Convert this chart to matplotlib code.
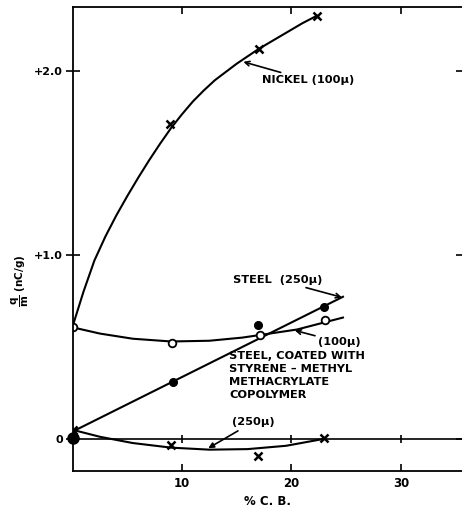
import matplotlib.pyplot as plt

# measured points
nickel_x = [8.9, 17.0, 22.3]
nickel_y = [1.71, 2.12, 2.30]
steel250_x = [0.0, 9.15, 16.97, 22.97]
steel250_y = [0.005, 0.31, 0.62, 0.72]
steel100_x = [0.0, 9.06, 17.1, 23.06]
steel100_y = [0.607, 0.523, 0.563, 0.647]
coated_x = [0.0, 8.97, 16.97, 22.97]
coated_y = [0.05, -0.033, -0.092, 0.004]

# drawn curves
nickel_cx = [0, 1, 2, 3, 4, 5, 6, 7, 8, 9, 10, 11, 12, 13, 14, 15, 16, 17, 18, 19, 20, 21, 22.3]
nickel_cy = [0.61, 0.80, 0.97, 1.10, 1.215, 1.32, 1.42, 1.515, 1.605, 1.69, 1.765, 1.835,
             1.895, 1.95, 1.995, 2.04, 2.08, 2.12, 2.155, 2.19, 2.225, 2.26, 2.30]
steel250_cx = [0.0, 24.7]
steel250_cy = [0.04, 0.773]
steel100_cx = [0.0, 2.5, 5.5, 9.0, 12.5, 15.5, 17.1, 20.5, 24.7]
steel100_cy = [0.607, 0.573, 0.545, 0.530, 0.534, 0.551, 0.565, 0.595, 0.66]
coated_cx = [0.0, 2.5, 5.5, 9.0, 12.5, 16.0, 19.5, 22.9]
coated_cy = [0.05, 0.012, -0.022, -0.047, -0.058, -0.055, -0.037, 0.0]

xticks = [10, 20, 30]
yticks = [0, 1, 2]
ytick_labels = ["0", "+1.0", "+2.0"]

plt.rcParams["font.family"] = "DejaVu Sans"
plt.rcParams["font.weight"] = "bold"

fig = plt.figure(figsize=(4.62, 5.08), dpi=100)
ax = fig.add_axes([72.5 / 462, 37 / 508, (463 - 72.5) / 462, (471 - 7) / 508])
ax.set_xlim(0, (463 - 72.5) / 10.95)
ax.set_ylim(-0.174, 2.348)

for s in ["left", "top", "bottom"]:
    ax.spines[s].set_linewidth(1.3)
ax.spines["right"].set_visible(False)

ax.set_xticks(xticks)
ax.set_xticklabels([str(t) for t in xticks], fontsize=8.5, fontweight="bold")
ax.set_yticks(yticks)
ax.set_yticklabels(ytick_labels, fontsize=8, fontweight="bold")
ax.tick_params(axis="x", direction="in", length=5, width=1.2, top=True, pad=4)
ax.tick_params(axis="y", direction="inout", length=10, width=1.2, right=True, pad=2)

ax.axhline(0, color="black", lw=1.2)
ax.vlines(xticks, -0.02, 0.02, color="black", lw=1.2)

lw = 1.5
for cx, cy in [(nickel_cx, nickel_cy), (steel250_cx, steel250_cy),
               (steel100_cx, steel100_cy), (coated_cx, coated_cy)]:
    ax.plot(cx, cy, color="black", lw=lw, solid_joinstyle="round")

ax.plot(nickel_x, nickel_y, "x", color="black", ms=6, mew=1.8)
ax.plot(coated_x, coated_y, "x", color="black", ms=6, mew=1.8)
ax.plot(steel100_x, steel100_y, "o", mfc="white", mec="black", ms=5.5, mew=1.3)
ax.plot(steel250_x[1:], steel250_y[1:], "o", color="black", ms=5.5)
ax.plot(steel250_x[:1], steel250_y[:1], "o", color="black", ms=8, clip_on=False)

txt = dict(fontsize=8.2, fontweight="bold", color="black")
arrow = dict(arrowstyle="->", color="black", lw=1.2, shrinkA=0, shrinkB=0)

ax.annotate("NICKEL (100\u03bc)", xy=(15.6, 2.05), xytext=(17.3, 1.95),
            ha="left", va="center", arrowprops=arrow, **txt)
ax.annotate("STEEL  (250\u03bc)", xy=(24.6, 0.77), xytext=(18.7, 0.865),
            ha="center", va="center", arrowprops=arrow, **txt)
ax.annotate("(100\u03bc)", xy=(20.3, 0.59), xytext=(22.4, 0.527),
            ha="left", va="center", arrowprops=arrow, **txt)
ax.text(14.3, 0.478, "STEEL, COATED WITH\nSTYRENE \u2013 METHYL\nMETHACRYLATE\nCOPOLYMER",
        ha="left", va="top", linespacing=1.38, **txt)
ax.annotate("(250\u03bc)", xy=(12.4, -0.05), xytext=(14.6, 0.094),
            ha="left", va="center",
            arrowprops=dict(arrowstyle="-|>", color="black", lw=1.2,
                            shrinkA=2, shrinkB=0, mutation_scale=8), **txt)

ax.set_xlabel("% C. B.", fontsize=8.5, fontweight="bold", labelpad=4)
ax.set_ylabel(r"$\mathbf{\dfrac{q}{m}}$ (nC/g)", fontsize=7.5, fontweight="bold")
ax.yaxis.set_label_coords(-0.105, 0.41)

fig.savefig("out.png", dpi=100)
